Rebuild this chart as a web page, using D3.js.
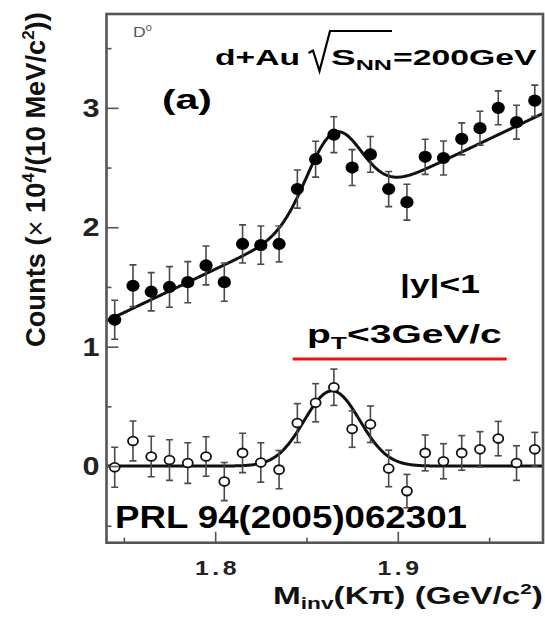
<!DOCTYPE html>
<html>
<head>
<meta charset="utf-8">
<script src="https://cdn.jsdelivr.net/npm/d3@7"></script>
<style>
  html, body { margin: 0; padding: 0; background: #fff; }
  svg { display: block; font-family: "Liberation Sans", Arial, Helvetica, sans-serif; }
</style>
</head>
<body>
<svg id="chart" width="545" height="617"></svg>
<script>
// K-pi invariant-mass bin centres (GeV/c^2), 10 MeV/c^2 bins
const massBins = [1.745, 1.755, 1.765, 1.775, 1.785, 1.795, 1.805, 1.815,
                  1.825, 1.835, 1.845, 1.855, 1.865, 1.875, 1.885, 1.895,
                  1.905, 1.915, 1.925, 1.935, 1.945, 1.955, 1.965, 1.975];

// Same-event spectrum after mixed-event subtraction (x 10^4 counts)
const signalPlusBg = [1.225, 1.51, 1.46, 1.50, 1.54, 1.68, 1.54, 1.86,
                      1.85, 1.86, 2.32, 2.57, 2.775, 2.50, 2.61, 2.32,
                      2.21, 2.59, 2.58, 2.74, 2.83, 3.00, 2.88, 3.06];
const signalPlusBgErr = [0.163, 0.175, 0.16, 0.17, 0.172, 0.163, 0.16, 0.16,
                         0.16, 0.15, 0.16, 0.15, 0.15, 0.15, 0.15, 0.147,
                         0.15, 0.147, 0.142, 0.134, 0.142, 0.142, 0.142, 0.13];

// Spectrum after residual-background subtraction (x 10^4 counts)
const signalOnly = [-0.01, 0.21, 0.08, 0.05, 0.025, 0.08, -0.13, 0.11,
                    0.03, -0.03, 0.36, 0.53, 0.66, 0.31, 0.35, -0.02,
                    -0.21, 0.11, 0.04, 0.11, 0.14, 0.23, 0.025, 0.14];
const signalOnlyErr = [0.167, 0.167, 0.17, 0.17, 0.17, 0.165, 0.16, 0.165,
                       0.165, 0.16, 0.163, 0.16, 0.152, 0.153, 0.153, 0.153,
                       0.14, 0.15, 0.147, 0.145, 0.148, 0.144, 0.145, 0.142];

// Fit model: linear residual background + Gaussian D0 peak
const bgLine = [1.212, 7.27];            // value at 1.74 GeV/c^2, slope per GeV/c^2
const peakUpper = [0.67, 1.865, 0.0150]; // amplitude, mean, sigma
const peakLower = [0.63, 1.864, 0.0152];

const yMajorTicks = [0, 1, 2, 3];
const yMinorTicks = [-0.5, 0.5, 1.5, 2.5, 3.5];
const xMajorTicks = [1.8, 1.9];
const xMinorTicks = [1.75, 1.85, 1.95];

const svg = d3.select("#chart");
const frame = { left: 106.5, right: 543, top: 14, bottom: 542.7 };

const x = d3.scaleLinear().domain([1.7405, 1.9795]).range([frame.left, frame.right]);
const y = d3.scaleLinear().domain([-0.642, 3.786]).range([frame.bottom, frame.top]);

const gauss = (m, p) => p[0] * Math.exp(-0.5 * Math.pow((m - p[1]) / p[2], 2));
const bg = m => bgLine[0] + bgLine[1] * (m - 1.74);

svg.append("defs").append("clipPath").attr("id", "plotArea")
  .append("rect")
  .attr("x", frame.left).attr("y", frame.top)
  .attr("width", frame.right - frame.left).attr("height", frame.bottom - frame.top);

// ---- Fit curves
const curveMass = d3.range(1.7405, 1.9796, 0.0005);
const line = d3.line().x(d => x(d[0])).y(d => y(d[1]));
const plot = svg.append("g").attr("clip-path", "url(#plotArea)");

plot.append("path")
  .datum(curveMass.map(m => [m, bg(m) + gauss(m, peakUpper)]))
  .attr("d", line).attr("fill", "none").attr("stroke", "#111").attr("stroke-width", 3);

plot.append("path")
  .datum(curveMass.map(m => [m, gauss(m, peakLower)]))
  .attr("d", line).attr("fill", "none").attr("stroke", "#111").attr("stroke-width", 3);

// ---- Error bars + markers
function drawSeries(vals, errs, filled) {
  const pts = massBins.map((m, i) => ({ m, v: vals[i], e: errs[i] }));
  const g = plot.append("g");
  const eb = g.selectAll("g.eb").data(pts).join("g").attr("stroke", "#4a4a4a").attr("stroke-width", 1.6);
  eb.append("line")
    .attr("x1", d => x(d.m)).attr("x2", d => x(d.m))
    .attr("y1", d => y(d.v - d.e)).attr("y2", d => y(d.v + d.e));
  eb.append("line")
    .attr("x1", d => x(d.m) - 3.5).attr("x2", d => x(d.m) + 3.5)
    .attr("y1", d => y(d.v + d.e)).attr("y2", d => y(d.v + d.e));
  eb.append("line")
    .attr("x1", d => x(d.m) - 3.5).attr("x2", d => x(d.m) + 3.5)
    .attr("y1", d => y(d.v - d.e)).attr("y2", d => y(d.v - d.e));
  if (filled) {
    g.selectAll("ellipse").data(pts).join("ellipse")
      .attr("cx", d => x(d.m)).attr("cy", d => y(d.v))
      .attr("rx", 6.6).attr("ry", 6.1).attr("fill", "#000");
  } else {
    g.selectAll("ellipse").data(pts).join("ellipse")
      .attr("cx", d => x(d.m)).attr("cy", d => y(d.v))
      .attr("rx", 5).attr("ry", 4.4).attr("fill", "#fff")
      .attr("stroke", "#111").attr("stroke-width", 1.8);
  }
}
drawSeries(signalPlusBg, signalPlusBgErr, true);
drawSeries(signalOnly, signalOnlyErr, false);

// ---- Axes (ticks point into the frame)
function styleAxis(g) {
  g.select(".domain").remove();
  g.selectAll(".tick line").attr("stroke", "#555").attr("stroke-width", 1.6);
}
svg.append("g").attr("transform", `translate(${frame.left},0)`)
  .call(d3.axisLeft(y).tickValues(yMinorTicks).tickSize(-5).tickFormat(""))
  .call(styleAxis);
const yAxis = svg.append("g").attr("transform", `translate(${frame.left},0)`)
  .call(d3.axisLeft(y).tickValues(yMajorTicks).tickSize(-12).tickPadding(7).tickFormat(d3.format("d")))
  .call(styleAxis);
yAxis.selectAll(".tick text")
  .attr("font-size", 25).attr("font-weight", "bold").attr("fill", "#222")
  .attr("font-family", "Liberation Sans, Arial, sans-serif")
  .attr("dy", "0.34em")
  .attr("textLength", 17).attr("lengthAdjust", "spacingAndGlyphs");

svg.append("g").attr("transform", `translate(0,${frame.bottom})`)
  .call(d3.axisBottom(x).tickValues(xMinorTicks).tickSize(-5).tickFormat(""))
  .call(styleAxis);
const xAxis = svg.append("g").attr("transform", `translate(0,${frame.bottom})`)
  .call(d3.axisBottom(x).tickValues(xMajorTicks).tickSize(-11).tickPadding(17).tickFormat(d3.format(".1f")))
  .call(styleAxis);
xAxis.selectAll(".tick text")
  .attr("font-size", 21).attr("font-weight", "bold").attr("fill", "#222")
  .attr("font-family", "Liberation Sans, Arial, sans-serif")
  .attr("letter-spacing", 3).attr("dx", 1.5)
  .attr("transform", "scale(1.18,1)");

// Frame
svg.append("rect")
  .attr("x", frame.left).attr("y", frame.top)
  .attr("width", frame.right - frame.left).attr("height", frame.bottom - frame.top)
  .attr("fill", "none").attr("stroke", "#555").attr("stroke-width", 2.6);

// ---- Text helper: lay out runs of text, then stretch horizontally to a given width
function richText(parent, px, baseline, width, size, runs, opts = {}) {
  const g = parent.append("g").attr("transform", `translate(${px},${baseline})`);
  const t = g.append("text")
    .attr("font-size", size)
    .attr("font-weight", opts.weight || "bold")
    .attr("fill", opts.fill || "#000");
  runs.forEach(r => {
    const ts = t.append("tspan").text(r.t);
    if (r.sub) ts.attr("font-size", size * 0.68).attr("dy", size * 0.22);
    if (r.sup) ts.attr("font-size", size * 0.62).attr("dy", -size * 0.4);
    if (r.back) ts.attr("dy", r.back);
  });
  const bb = t.node().getBBox();
  const sx = width / bb.width;
  t.attr("transform", `scale(${sx},1) translate(${-bb.x},0)`);
  return g;
}

// y-axis title (rotated)
const yTitle = svg.append("g").attr("transform", "translate(45,347) rotate(-90)");
{
  const s = 27;
  const t = yTitle.append("text").attr("font-size", s).attr("font-weight", "bold").attr("fill", "#111");
  t.append("tspan").text("Counts (");
  t.append("tspan").text("\u00d7").attr("font-weight", "normal");
  t.append("tspan").text(" 10");
  t.append("tspan").text("4").attr("font-size", s * 0.62).attr("dy", -s * 0.42);
  t.append("tspan").text("/(10 MeV/c").attr("dy", s * 0.42);
  t.append("tspan").text("2").attr("font-size", s * 0.62).attr("dy", -s * 0.42);
  t.append("tspan").text("))").attr("dy", s * 0.42);
  const bb = t.node().getBBox();
  t.attr("transform", `scale(${335 / bb.width},1) translate(${-bb.x},0)`);
}

// x-axis title
richText(svg, 273, 604, 270, 24, [
  { t: "M" }, { t: "inv", sub: true }, { t: "(K\u03c0) (GeV/c", back: -24 * 0.22 },
  { t: "2", sup: true }, { t: ")", back: 24 * 0.4 }
], { fill: "#111" });

// Annotations
richText(svg, 133, 37, 19, 14, [{ t: "D" }, { t: "0", sup: true }], { weight: "normal", fill: "#555" });
richText(svg, 215, 65, 85, 22, [{ t: "d+Au" }]);
svg.append("path")
  .attr("d", "M308.5,53 L313,50.5 L319.5,71 L330,31 L392,31")
  .attr("fill", "none").attr("stroke", "#000").attr("stroke-width", 2.2).attr("stroke-linejoin", "miter");
richText(svg, 331, 65, 61, 22, [{ t: "S" }, { t: "NN", sub: true }]);
richText(svg, 393, 65, 144, 22, [{ t: "=200GeV" }]);
richText(svg, 162, 109, 50, 27, [{ t: "(a)" }]);
richText(svg, 400, 293, 80, 25, [{ t: "|y|<1" }]);
richText(svg, 307, 343, 195, 25, [{ t: "p" }, { t: "T", sub: true }, { t: "<3GeV/c", back: -25 * 0.22 }]);
svg.append("line")
  .attr("x1", 292.7).attr("x2", 506.7).attr("y1", 359).attr("y2", 359)
  .attr("stroke", "#ee1111").attr("stroke-width", 3);
richText(svg, 115, 528, 352, 32, [{ t: "PRL 94(2005)062301" }]);
</script>
</body>
</html>
